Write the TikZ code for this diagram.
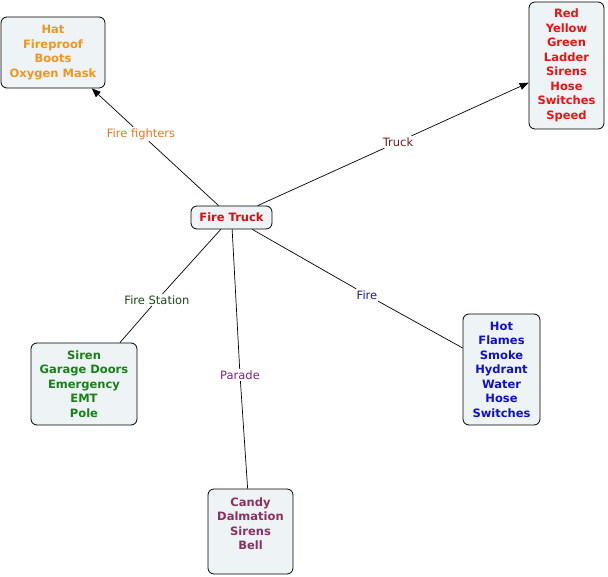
\documentclass[tikz,border=0pt]{standalone}
\usepackage{fontspec}
\setmainfont{DejaVu Sans}
\usetikzlibrary{arrows.meta}
\definecolor{boxfill}{HTML}{EEF3F5}
\definecolor{corange}{HTML}{F0961E}
\definecolor{lorange}{HTML}{E8781E}
\definecolor{cred}{HTML}{E81414}
\definecolor{ftred}{HTML}{D41010}
\definecolor{ltruck}{HTML}{7A1A1A}
\definecolor{cgreen}{HTML}{148214}
\definecolor{lgreen}{HTML}{1E461E}
\definecolor{cblue}{HTML}{1010C8}
\definecolor{lblue}{HTML}{1E1E82}
\definecolor{cpurple}{HTML}{8C2F60}
\definecolor{lpurple}{HTML}{822082}
\tikzset{
  x=1pt,y=1pt,
  concept/.style={draw=black, line width=0.8pt, fill=boxfill, rounded corners=6pt,
    align=center, inner sep=0pt, font=\bfseries\fontsize{11.5}{14.5}\selectfont},
  words/.style={align=center, inner sep=0pt, font=\bfseries\fontsize{11.5}{14.5}\selectfont},
  link/.style={fill=white, inner sep=1.5pt, font=\fontsize{11.5}{14}\selectfont},
  conn/.style={draw=black, line width=0.7pt},
  arr/.style={conn, -{Triangle[length=9pt,width=7pt]}}
}
\begin{document}
\begin{tikzpicture}
\useasboundingbox (0,0) rectangle (608,-577);
% concept nodes
\node[concept, text=ftred, minimum width=81, minimum height=23] (ft) at (231.5,-217.5) {Fire Truck};
\node[concept, text=corange, minimum width=104, minimum height=71] (hat) at (53,-52.5)
  {Hat\\Fireproof\\Boots\\Oxygen Mask};
\node[concept, text=cred, minimum width=75, minimum height=127] (red) at (566.5,-65.5)
  {Red\\Yellow\\Green\\Ladder\\Sirens\\Hose\\Switches\\Speed};
\node[concept, text=cgreen, minimum width=106, minimum height=82] (station) at (84,-384)
  {Siren\\Garage Doors\\Emergency\\EMT\\Pole};
\node[concept, text=cblue, minimum width=77, minimum height=111] (fire) at (501.5,-369.5)
  {Hot\\Flames\\Smoke\\Hydrant\\Water\\Hose\\Switches};
\node[concept, minimum width=85, minimum height=85] (parade) at (250.5,-531.5) {};
\node[words, text=cpurple] (paradetext) at (250.5,-523.5) {Candy\\Dalmation\\Sirens\\Bell};
% link labels
\node[link, text=lorange] (l1) at (141,-134) {Fire fighters};
\node[link, text=ltruck] (l2) at (398,-142) {Truck};
\node[link, text=lgreen] (l3) at (157,-300) {Fire Station};
\node[link, text=lblue] (l4) at (367,-295) {Fire};
\node[link, text=lpurple] (l5) at (240,-375) {Parade};
% connectors
\draw[conn] (ft) -- (l1);
\draw[arr] (l1) -- (hat);
\draw[conn] (ft) -- (l2);
\draw[arr] (l2) -- (red);
\draw[conn] (ft) -- (l3);
\draw[conn] (l3) -- (station);
\draw[conn] (ft) -- (l4);
\draw[conn] (l4) -- (fire);
\draw[conn] (ft) -- (l5);
\draw[conn] (l5) -- (parade);
\end{tikzpicture}
\end{document}
